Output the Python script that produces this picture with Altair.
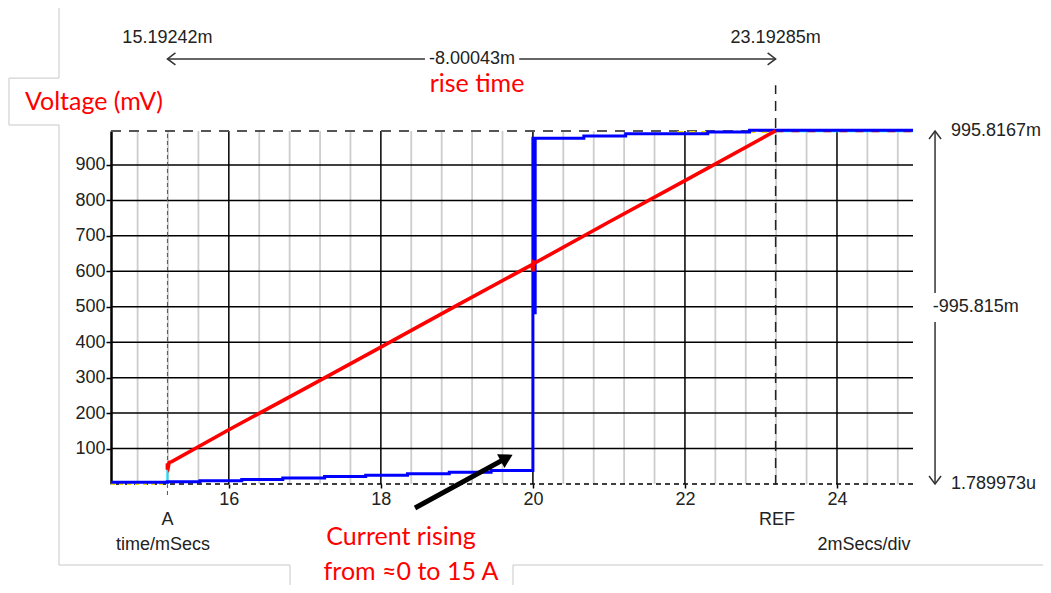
import altair as alt
import pandas as pd

# ---------------- data ----------------
# red trace: voltage (mV) vs time (ms)
red_t = [15.192, 15.192, 15.205, 15.215, 15.25, 16.0, 17.0, 18.0, 19.0, 19.99, 20.0, 20.01, 20.03, 21.0, 22.0, 23.19]
red_mv = [40, 58, 50, 61, 63, 153, 269, 386, 504, 619, 600, 626, 624, 739, 856, 996]

# blue trace: current (scaled), staircase
blue_t = [14.45, 15.19, 15.62, 16.17, 16.71, 17.26, 17.80, 18.35, 18.90, 19.45, 20.00, 20.02, 20.03, 20.67, 21.22, 22.30, 22.85, 25.0]
blue_mv = [5, 6, 9, 13, 17, 21, 25, 29, 33, 38, 975, 483, 975, 982, 988, 993, 998, 998]

# yellow / cyan traces (mostly hidden)
yellow_t = [14.45, 15.19]
yellow_mv = [0, 0]
yellow2_t = [21.9, 23.19]
yellow2_mv = [993, 993]
cyan_t = [15.192, 15.192]
cyan_mv = [0, 46]
top_t = [23.19, 25.0]
top_mv = [995.8, 995.8]

# grid / ticks
major_t = [16, 18, 20, 22, 24]
minor_t = [14.8, 15.2, 15.6, 16.4, 16.8, 17.2, 17.6, 18.4, 18.8, 19.2, 19.6,
           20.4, 20.8, 21.2, 21.6, 22.4, 22.8, 23.2, 23.6, 24.4, 24.8]
hgrid_mv = [100, 200, 300, 400, 500, 600, 700, 800, 900]

# cursors
cursor_a = 15.19242
cursor_ref = 23.19285
top_level = 995.8167
bottom_level = 0.00179
arrow_x = 25.29

# texts
meas_center = pd.DataFrame({
    't': [15.192, 23.193, 19.20, 15.192, 15.134, 23.21, 24.355],
    'v': [1258, 1258, 1199, -101, -172, -101, -172],
    'label': ['15.19242m', '23.19285m', '-8.00043m', 'A', 'time/mSecs', 'REF', '2mSecs/div'],
})
meas_left = pd.DataFrame({
    't': [25.50, 25.26, 25.50],
    'v': [995.8, 499, 0],
    'label': ['995.8167m', '-995.815m', '1.789973u'],
})
red_text = pd.DataFrame({
    't': [14.226, 19.265, 18.265, 18.396],
    'v': [1078, 1128, -149.5, -248],
    'label': ['Voltage (mV)', 'rise time', 'Current rising', 'from ≈0 to 15 A'],
})

# ---------------- scales / axes ----------------
xs = alt.Scale(domain=[14.45, 25.0], nice=False, zero=False)
ys = alt.Scale(domain=[0, 995.8], nice=False, zero=False)
xaxis = alt.Axis(values=major_t, title=None, grid=False, domain=False, ticks=True,
                 tickColor='black', tickSize=4, tickWidth=1.5, labelFont='Liberation Sans',
                 labelFontSize=18, labelColor='#222222', labelPadding=2, format='d')
yaxis = alt.Axis(values=hgrid_mv, title=None, grid=False, domain=True, domainColor='black',
                 domainWidth=2.5, tickColor='black', tickSize=5, tickWidth=1.5,
                 labelFont='Liberation Sans', labelFontSize=18, labelColor='#222222',
                 labelPadding=1, format='d')
X = alt.X('t:Q', scale=xs, axis=xaxis)
Y = alt.Y('v:Q', scale=ys, axis=yaxis)


def line_layer(t, v, **mk):
    df = pd.DataFrame({'t': t, 'v': v, 'i': list(range(len(t)))})
    return alt.Chart(df).mark_line(**mk).encode(x=X, y=Y, order='i:Q')


def seg_layer(x1, y1, x2, y2, **mk):
    df = pd.DataFrame({'t': x1, 'v': y1, 't2': x2, 'v2': y2})
    return alt.Chart(df).mark_rule(**mk).encode(x=X, y=Y, x2='t2:Q', y2='v2:Q')


def vrule(ts, **mk):
    return alt.Chart(pd.DataFrame({'t': ts})).mark_rule(**mk).encode(x=X)


def hrule(vs, **mk):
    return alt.Chart(pd.DataFrame({'v': vs})).mark_rule(**mk).encode(y=Y)


def chevron(t, v, path):
    df = pd.DataFrame({'t': [t], 'v': [v]})
    return alt.Chart(df).mark_point(shape=path, filled=False, size=256, stroke='#333333',
                                    strokeWidth=1.5, opacity=1).encode(x=X, y=Y)


GRAY = '#c8c8c8'
layers = []

# screenshot outline decorations
layers.append(seg_layer(
    [13.766, 13.108, 13.108, 13.108, 13.766, 13.766, 16.805, 19.738, 19.738],
    [1345, 1145, 1145, 1012.7, 1012.7, -228.5, -228.5, -228.5, -228.5],
    [13.766, 13.766, 13.108, 13.766, 13.766, 16.805, 16.805, 19.738, 26.71],
    [1145, 1145, 1012.7, 1012.7, -228.5, -228.5, -300, -300, -228.5],
    color=GRAY, strokeWidth=1))

# grid
layers.append(vrule(minor_t, color='#cdcdcd', strokeWidth=1.8))
layers.append(hrule(hgrid_mv, color='black', strokeWidth=1.5))
layers.append(vrule(major_t, color='black', strokeWidth=1.5))
layers.append(hrule([top_level], color='#555555', strokeWidth=2, strokeDash=[10, 8]))
layers.append(hrule([bottom_level], color='black', strokeWidth=1.3, strokeDash=[5, 4]))

# cursors
layers.append(seg_layer([cursor_a], [-31], [cursor_a], [top_level],
                        color='#555555', strokeWidth=1, strokeDash=[4, 3]))
layers.append(seg_layer([cursor_ref], [-3], [cursor_ref], [1125],
                        color='#222222', strokeWidth=1.5, strokeDash=[10, 7]))

# traces
layers.append(line_layer(yellow_t, yellow_mv, color='#f0e000', strokeWidth=2, strokeDash=[4, 4]))
layers.append(line_layer(cyan_t, cyan_mv, color='#00e5ff', strokeWidth=2))
layers.append(line_layer(top_t, top_mv, color='#00e5ff', strokeWidth=2.5))
layers.append(line_layer(top_t, top_mv, color='#ff0000', strokeWidth=2.5, strokeDash=[8, 8]))
layers.append(line_layer(yellow2_t, yellow2_mv, color='#f0e000', strokeWidth=2, strokeDash=[6, 6]))
layers.append(line_layer(blue_t, blue_mv, color='#0000ff', strokeWidth=3, interpolate='step-after'))
layers.append(line_layer(red_t, red_mv, color='#ff0000', strokeWidth=3.6))

# dimension arrows
layers.append(seg_layer([cursor_a, 19.82], [1199, 1199], [18.58, cursor_ref], [1199, 1199],
                        color='#333333', strokeWidth=1.5))
layers.append(chevron(cursor_a, 1199, 'M 1 -0.75 L 0 0 L 1 0.75'))
layers.append(chevron(cursor_ref, 1199, 'M -1 -0.75 L 0 0 L -1 0.75'))
layers.append(seg_layer([arrow_x, arrow_x], [top_level, 457], [arrow_x, arrow_x], [539, bottom_level],
                        color='#333333', strokeWidth=1.5))
layers.append(chevron(arrow_x, top_level, 'M -0.75 1 L 0 0 L 0.75 1'))
layers.append(chevron(arrow_x, bottom_level, 'M -0.75 -1 L 0 0 L 0.75 -1'))

# annotation arrow (black, thick)
layers.append(seg_layer([18.449], [-67.7], [19.655], [73.7], color='black', strokeWidth=5))
layers.append(alt.Chart(pd.DataFrame({'t': [19.655], 'v': [73.7]})).mark_point(
    shape='triangle-right', filled=True, size=240, color='black', opacity=1, angle=331.4
).encode(x=X, y=Y))

# texts
layers.append(alt.Chart(meas_center).mark_text(
    font='Liberation Sans', fontSize=18, color='#222222', align='center', baseline='middle'
).encode(x=X, y=Y, text='label:N'))
layers.append(alt.Chart(meas_left).mark_text(
    font='Liberation Sans', fontSize=18, color='#222222', align='left', baseline='middle'
).encode(x=X, y=Y, text='label:N'))
layers.append(alt.Chart(red_text).mark_text(
    font='Lato', fontSize=25, color='#ff0000', align='center', baseline='middle'
).encode(x=X, y=Y, text='label:N'))

chart = alt.layer(*layers).properties(
    width=802, height=353,
    padding={'left': 103, 'top': 123, 'right': 130, 'bottom': 101},
    autosize=alt.AutoSizeParams(type='none'),
    background='white',
).configure_view(stroke=None)

chart.save("out.html", embed_options={"renderer": "svg", "actions": False})
